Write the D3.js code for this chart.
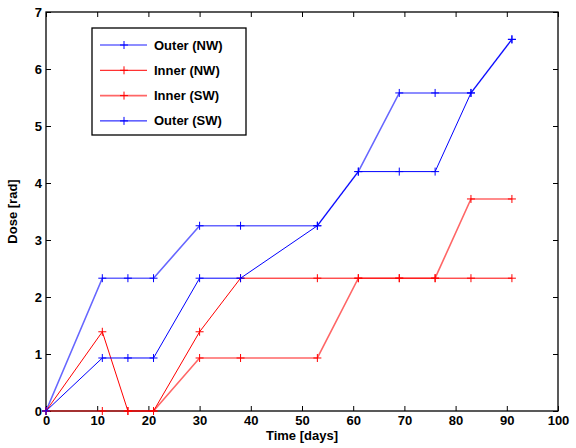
<!DOCTYPE html>
<html>
<head>
<meta charset="utf-8">
<script src="https://cdn.jsdelivr.net/npm/d3@7"></script>
<style>
  html, body { margin: 0; padding: 0; background: #fff; overflow: hidden; }
  svg { display: block; }
  text { font-family: "Liberation Sans", Arial, sans-serif; font-weight: bold; fill: #000; }
</style>
</head>
<body>
<div id="chart"></div>
<script>
const days = [0, 11, 16, 21, 30, 38, 53, 61, 69, 76, 83, 91];
const outerNW = [0, 2.33, 2.33, 2.33, 3.25, 3.25, 3.25, 4.2, 5.58, 5.58, 5.58, 6.52];
const innerNW = [0, 1.39, 0, 0, 1.39, 2.33, 2.33, 2.33, 2.33, 2.33, 2.33, 2.33];
const innerSW = [0, 0, 0, 0, 0.93, 0.93, 0.93, 2.33, 2.33, 2.33, 3.72, 3.72];
const outerSW = [0, 0.93, 0.93, 0.93, 2.33, 2.33, 3.25, 4.2, 4.2, 4.2, 5.58, 6.52];
const xTicks = [0, 10, 20, 30, 40, 50, 60, 70, 80, 90, 100];
const yTicks = [0, 1, 2, 3, 4, 5, 6, 7];

const series = [
  { name: "Outer (NW)", values: outerNW, color: "#0000ff", width: 1.6, opacity: 0.6 },
  { name: "Inner (NW)", values: innerNW, color: "#ff0000", width: 1, opacity: 1 },
  { name: "Inner (SW)", values: innerSW, color: "#ff0000", width: 1.6, opacity: 0.6 },
  { name: "Outer (SW)", values: outerSW, color: "#0000ff", width: 1, opacity: 1 },
];

const width = 576, height = 448;
const margin = { top: 12, right: 18, bottom: 37, left: 46 };
const innerWidth = width - margin.left - margin.right,
  innerHeight = height - margin.top - margin.bottom;

const svg = d3.select("#chart").append("svg")
  .attr("width", width).attr("height", height);

const g = svg.append("g")
  .attr("transform", `translate(${margin.left},${margin.top})`);

const x = d3.scaleLinear().domain([0, 100]).range([0, innerWidth]);
const y = d3.scaleLinear().domain([0, 7]).range([innerHeight, 0]);

// ticks on all four sides, pointing inward
const tk = 5;
g.append("g").attr("transform", `translate(0,${innerHeight})`)
  .call(d3.axisBottom(x).tickValues(xTicks).tickSizeInner(-tk).tickSizeOuter(0).tickPadding(4))
  .call(a => a.select(".domain").remove())
  .call(a => a.selectAll("text").style("font-size", "13px").attr("y", 14).attr("dy", null));
g.append("g")
  .call(d3.axisTop(x).tickValues(xTicks).tickSizeInner(-tk).tickSizeOuter(0))
  .call(a => a.select(".domain").remove())
  .call(a => a.selectAll("text").remove());
g.append("g")
  .call(d3.axisLeft(y).tickValues(yTicks).tickFormat(d3.format("d")).tickSizeInner(-tk).tickSizeOuter(0).tickPadding(4))
  .call(a => a.select(".domain").remove())
  .call(a => a.selectAll("text").style("font-size", "13px"));
g.append("g").attr("transform", `translate(${innerWidth},0)`)
  .call(d3.axisRight(y).tickValues(yTicks).tickSizeInner(-tk).tickSizeOuter(0))
  .call(a => a.select(".domain").remove())
  .call(a => a.selectAll("text").remove());

g.append("rect")
  .attr("width", innerWidth).attr("height", innerHeight)
  .attr("fill", "none").attr("stroke", "#000").attr("stroke-width", 1.3);

const line = d3.line().x((d, i) => x(days[i])).y(d => y(d));

const plus = (sel, color, w) => {
  sel.append("path")
    .attr("d", "M-4,0H4M0,-4V4")
    .attr("stroke", color).attr("stroke-width", w).attr("fill", "none");
};

series.forEach(s => {
  g.append("path").datum(s.values)
    .attr("fill", "none").attr("stroke", s.color)
    .attr("stroke-width", s.width).attr("stroke-opacity", s.opacity)
    .attr("d", line);
  g.selectAll(null).data(s.values).join("g")
    .attr("transform", (d, i) => `translate(${x(days[i])},${y(d)})`)
    .call(plus, s.color, 1);
});

// axis titles
svg.append("text")
  .attr("x", margin.left + innerWidth / 2).attr("y", 440)
  .attr("text-anchor", "middle").style("font-size", "13px")
  .text("Time [days]");
svg.append("text")
  .attr("transform", `translate(17,${margin.top + innerHeight / 2}) rotate(-90)`)
  .attr("text-anchor", "middle").style("font-size", "13px")
  .text("Dose [rad]");

// legend
const legend = svg.append("g").attr("transform", "translate(92,28)");
legend.append("rect")
  .attr("width", 154).attr("height", 107)
  .attr("fill", "#fff").attr("stroke", "#000").attr("stroke-width", 1.3);

const item = legend.selectAll(".item").data(series).join("g")
  .attr("class", "item")
  .attr("transform", (_, i) => `translate(0,${17 + i * 25.3})`);
item.append("line")
  .attr("x1", 8).attr("x2", 55)
  .attr("stroke", d => d.color)
  .attr("stroke-width", d => d.width)
  .attr("stroke-opacity", d => d.opacity);
item.append("g").attr("transform", "translate(32,0)")
  .each(function (d) { plus(d3.select(this), d.color, 1); });
item.append("text")
  .attr("x", 62).attr("dy", "0.35em")
  .style("font-size", "13px")
  .text(d => d.name);
</script>
</body>
</html>
